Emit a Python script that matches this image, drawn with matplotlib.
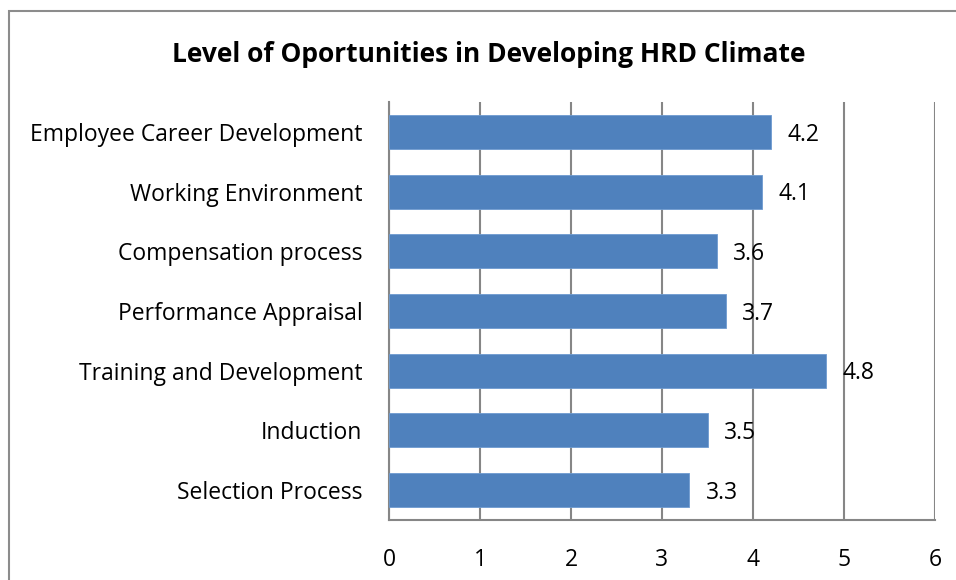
import matplotlib.pyplot as plt
from matplotlib.patches import Rectangle

plt.rcParams['font.family'] = ['Open Sans', 'DejaVu Sans']

# data
categories = ['Selection Process', 'Induction', 'Training and Development',
              'Performance Appraisal', 'Compensation process',
              'Working Environment', 'Employee Career Development']
scores = [3.3, 3.5, 4.8, 3.7, 3.6, 4.1, 4.2]
xticks = [0, 1, 2, 3, 4, 5, 6]

bar_color = '#4F81BD'
grid_color = '#868686'

fig = plt.figure(figsize=(9.56, 5.8), dpi=100)
ax = fig.add_axes([389 / 956, 1 - 520 / 580, (935 - 389) / 956, (520 - 102) / 580])

ax.barh(categories, scores, height=0.57, color=bar_color, edgecolor='#6E9BD0', linewidth=0.6, zorder=3)
for i, v in enumerate(scores):
    ax.annotate(f'{v:g}', (v, i), xytext=(12, -2), textcoords='offset points',
                va='center', ha='left', fontsize=16.5, zorder=4)

ax.set_xlim(0, 6)
ax.set_ylim(-0.5, len(categories) - 0.5)
ax.set_xticks(xticks)
ax.xaxis.grid(True, color=grid_color, linewidth=1.5, zorder=0)
ax.tick_params(axis='both', length=0, labelsize=16.5)
ax.tick_params(axis='x', pad=20)
ax.tick_params(axis='y', pad=19)
for s in ['top', 'right']:
    ax.spines[s].set_visible(False)
ax.spines['left'].set_color(grid_color)
ax.spines['left'].set_linewidth(1.5)
ax.spines['bottom'].set_color(grid_color)
ax.spines['bottom'].set_linewidth(1.5)

fig.text(489 / 956, 1 - 55 / 580, 'Level of Oportunities in Developing HRD Climate',
         ha='center', va='center', fontsize=19, fontweight='bold')

# outer chart border (runs off the right and bottom edge)
fig.patches.append(Rectangle((9 / 956, -0.05), 1.1, 1 - 11 / 580 + 0.05,
                             transform=fig.transFigure, fill=False,
                             edgecolor='#8C8C8C', linewidth=1.5))

fig.savefig('out.png', dpi=100)
